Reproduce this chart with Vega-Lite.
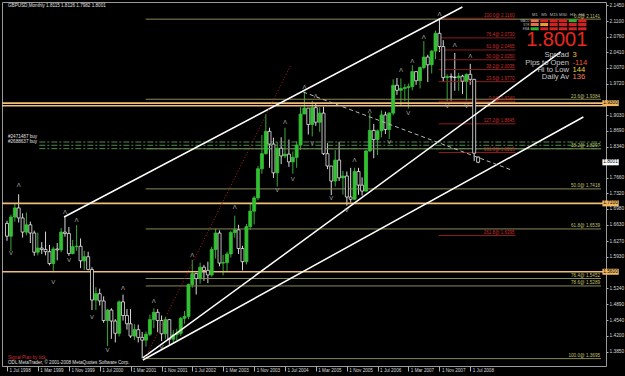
{
  "$schema": "https://vega.github.io/schema/vega-lite/v6.json",
  "width": 604,
  "height": 364,
  "autosize": "none",
  "padding": {"left": 2, "top": 2, "right": 19, "bottom": 10},
  "background": "#000000",
  "config": {
    "view": {"stroke": "#9a9a9a", "strokeWidth": 1},
    "font": "Liberation Sans",
    "axis": {"labelFont": "Liberation Sans", "labelOverlap": false, "labelSeparation": 0, "labelBound": false}
  },
  "resolve": {"scale": {"color": "independent"}},
  "datasets": {
    "candles": [
      {"d":"1998-07-01","o":1.6660,"h":1.6720,"l":1.6280,"c":1.6380},
      {"d":"1998-08-01","o":1.6380,"h":1.6850,"l":1.6050,"c":1.6800},
      {"d":"1998-09-01","o":1.6800,"h":1.7100,"l":1.6700,"c":1.7000},
      {"d":"1998-10-01","o":1.7000,"h":1.7300,"l":1.6680,"c":1.6780},
      {"d":"1998-11-01","o":1.6780,"h":1.6880,"l":1.6350,"c":1.6470},
      {"d":"1998-12-01","o":1.6470,"h":1.6900,"l":1.6400,"c":1.6630},
      {"d":"1999-01-01","o":1.6630,"h":1.6700,"l":1.6230,"c":1.6450},
      {"d":"1999-02-01","o":1.6450,"h":1.6500,"l":1.5950,"c":1.6030},
      {"d":"1999-03-01","o":1.6030,"h":1.6460,"l":1.5960,"c":1.6120},
      {"d":"1999-04-01","o":1.6120,"h":1.6250,"l":1.5990,"c":1.6090},
      {"d":"1999-05-01","o":1.6090,"h":1.6480,"l":1.5960,"c":1.6040},
      {"d":"1999-06-01","o":1.6040,"h":1.6190,"l":1.5740,"c":1.5780},
      {"d":"1999-07-01","o":1.5780,"h":1.6150,"l":1.5590,"c":1.6100},
      {"d":"1999-08-01","o":1.6100,"h":1.6230,"l":1.5850,"c":1.6080},
      {"d":"1999-09-01","o":1.6080,"h":1.6560,"l":1.6030,"c":1.6470},
      {"d":"1999-10-01","o":1.6470,"h":1.6800,"l":1.6370,"c":1.6440},
      {"d":"1999-11-01","o":1.6440,"h":1.6580,"l":1.5950,"c":1.6000},
      {"d":"1999-12-01","o":1.6000,"h":1.6300,"l":1.5980,"c":1.6150},
      {"d":"2000-01-01","o":1.6150,"h":1.6620,"l":1.6060,"c":1.6160},
      {"d":"2000-02-01","o":1.6160,"h":1.6330,"l":1.5680,"c":1.5840},
      {"d":"2000-03-01","o":1.5840,"h":1.6060,"l":1.5640,"c":1.5930},
      {"d":"2000-04-01","o":1.5930,"h":1.6040,"l":1.5630,"c":1.5650},
      {"d":"2000-05-01","o":1.5650,"h":1.5700,"l":1.4760,"c":1.4980},
      {"d":"2000-06-01","o":1.4980,"h":1.5260,"l":1.4760,"c":1.5120},
      {"d":"2000-07-01","o":1.5120,"h":1.5230,"l":1.4860,"c":1.4960},
      {"d":"2000-08-01","o":1.4960,"h":1.5060,"l":1.4480,"c":1.4530},
      {"d":"2000-09-01","o":1.4530,"h":1.4780,"l":1.3970,"c":1.4760},
      {"d":"2000-10-01","o":1.4760,"h":1.4800,"l":1.4130,"c":1.4520},
      {"d":"2000-11-01","o":1.4520,"h":1.4560,"l":1.4050,"c":1.4250},
      {"d":"2000-12-01","o":1.4250,"h":1.4970,"l":1.4180,"c":1.4940},
      {"d":"2001-01-01","o":1.4940,"h":1.5100,"l":1.4530,"c":1.4640},
      {"d":"2001-02-01","o":1.4640,"h":1.4780,"l":1.4330,"c":1.4460},
      {"d":"2001-03-01","o":1.4460,"h":1.4780,"l":1.4150,"c":1.4190},
      {"d":"2001-04-01","o":1.4190,"h":1.4450,"l":1.4100,"c":1.4330},
      {"d":"2001-05-01","o":1.4330,"h":1.4440,"l":1.4050,"c":1.4160},
      {"d":"2001-06-01","o":1.4160,"h":1.4280,"l":1.3700,"c":1.4100},
      {"d":"2001-07-01","o":1.4100,"h":1.4290,"l":1.3960,"c":1.4230},
      {"d":"2001-08-01","o":1.4230,"h":1.4660,"l":1.4190,"c":1.4550},
      {"d":"2001-09-01","o":1.4550,"h":1.4800,"l":1.4360,"c":1.4710},
      {"d":"2001-10-01","o":1.4710,"h":1.4780,"l":1.4280,"c":1.4530},
      {"d":"2001-11-01","o":1.4530,"h":1.4640,"l":1.4080,"c":1.4240},
      {"d":"2001-12-01","o":1.4240,"h":1.4610,"l":1.4130,"c":1.4550},
      {"d":"2002-01-01","o":1.4550,"h":1.4560,"l":1.4000,"c":1.4120},
      {"d":"2002-02-01","o":1.4120,"h":1.4320,"l":1.4050,"c":1.4220},
      {"d":"2002-03-01","o":1.4220,"h":1.4350,"l":1.4090,"c":1.4250},
      {"d":"2002-04-01","o":1.4250,"h":1.4610,"l":1.4190,"c":1.4580},
      {"d":"2002-05-01","o":1.4580,"h":1.4740,"l":1.4460,"c":1.4620},
      {"d":"2002-06-01","o":1.4620,"h":1.5340,"l":1.4560,"c":1.5320},
      {"d":"2002-07-01","o":1.5320,"h":1.5860,"l":1.5250,"c":1.5560},
      {"d":"2002-08-01","o":1.5560,"h":1.5570,"l":1.5100,"c":1.5450},
      {"d":"2002-09-01","o":1.5450,"h":1.5800,"l":1.5340,"c":1.5700},
      {"d":"2002-10-01","o":1.5700,"h":1.5750,"l":1.5400,"c":1.5630},
      {"d":"2002-11-01","o":1.5630,"h":1.5820,"l":1.5350,"c":1.5530},
      {"d":"2002-12-01","o":1.5530,"h":1.6150,"l":1.5490,"c":1.6090},
      {"d":"2003-01-01","o":1.6090,"h":1.6540,"l":1.5890,"c":1.6450},
      {"d":"2003-02-01","o":1.6450,"h":1.6510,"l":1.5720,"c":1.5790},
      {"d":"2003-03-01","o":1.5790,"h":1.5970,"l":1.5520,"c":1.5800},
      {"d":"2003-04-01","o":1.5800,"h":1.6040,"l":1.5600,"c":1.5990},
      {"d":"2003-05-01","o":1.5990,"h":1.6500,"l":1.5910,"c":1.6460},
      {"d":"2003-06-01","o":1.6460,"h":1.6830,"l":1.6350,"c":1.6520},
      {"d":"2003-07-01","o":1.6520,"h":1.6630,"l":1.5990,"c":1.6110},
      {"d":"2003-08-01","o":1.6110,"h":1.6170,"l":1.5630,"c":1.5820},
      {"d":"2003-09-01","o":1.5820,"h":1.6650,"l":1.5760,"c":1.6590},
      {"d":"2003-10-01","o":1.6590,"h":1.7090,"l":1.6520,"c":1.6930},
      {"d":"2003-11-01","o":1.6930,"h":1.7260,"l":1.6640,"c":1.7220},
      {"d":"2003-12-01","o":1.7220,"h":1.7920,"l":1.7170,"c":1.7860},
      {"d":"2004-01-01","o":1.7860,"h":1.8600,"l":1.7750,"c":1.8190},
      {"d":"2004-02-01","o":1.8190,"h":1.9050,"l":1.8170,"c":1.8680},
      {"d":"2004-03-01","o":1.8680,"h":1.8760,"l":1.7880,"c":1.8400},
      {"d":"2004-04-01","o":1.8400,"h":1.8540,"l":1.7660,"c":1.7770},
      {"d":"2004-05-01","o":1.7770,"h":1.8450,"l":1.7470,"c":1.8310},
      {"d":"2004-06-01","o":1.8310,"h":1.8550,"l":1.7960,"c":1.8140},
      {"d":"2004-07-01","o":1.8140,"h":1.8760,"l":1.8090,"c":1.8180},
      {"d":"2004-08-01","o":1.8180,"h":1.8500,"l":1.7900,"c":1.8010},
      {"d":"2004-09-01","o":1.8010,"h":1.8240,"l":1.7750,"c":1.8110},
      {"d":"2004-10-01","o":1.8110,"h":1.8460,"l":1.7880,"c":1.8380},
      {"d":"2004-11-01","o":1.8380,"h":1.9210,"l":1.8270,"c":1.9060},
      {"d":"2004-12-01","o":1.9060,"h":1.9550,"l":1.9060,"c":1.9190},
      {"d":"2005-01-01","o":1.9190,"h":1.9190,"l":1.8610,"c":1.8830},
      {"d":"2005-02-01","o":1.8830,"h":1.9350,"l":1.8570,"c":1.9200},
      {"d":"2005-03-01","o":1.9200,"h":1.9300,"l":1.8800,"c":1.8880},
      {"d":"2005-04-01","o":1.8880,"h":1.9210,"l":1.8670,"c":1.9080},
      {"d":"2005-05-01","o":1.9080,"h":1.9220,"l":1.8160,"c":1.8190},
      {"d":"2005-06-01","o":1.8190,"h":1.8420,"l":1.7850,"c":1.7920},
      {"d":"2005-07-01","o":1.7920,"h":1.7920,"l":1.7280,"c":1.7590},
      {"d":"2005-08-01","o":1.7590,"h":1.8270,"l":1.7470,"c":1.8050},
      {"d":"2005-09-01","o":1.8050,"h":1.8450,"l":1.7590,"c":1.7660},
      {"d":"2005-10-01","o":1.7660,"h":1.7810,"l":1.7290,"c":1.7700},
      {"d":"2005-11-01","o":1.7700,"h":1.7800,"l":1.7050,"c":1.7240},
      {"d":"2005-12-01","o":1.7240,"h":1.7880,"l":1.7120,"c":1.7190},
      {"d":"2006-01-01","o":1.7190,"h":1.7880,"l":1.7180,"c":1.7800},
      {"d":"2006-02-01","o":1.7800,"h":1.7880,"l":1.7290,"c":1.7500},
      {"d":"2006-03-01","o":1.7500,"h":1.7670,"l":1.7270,"c":1.7370},
      {"d":"2006-04-01","o":1.7370,"h":1.8270,"l":1.7360,"c":1.8250},
      {"d":"2006-05-01","o":1.8250,"h":1.9080,"l":1.8230,"c":1.8700},
      {"d":"2006-06-01","o":1.8700,"h":1.8840,"l":1.8090,"c":1.8500},
      {"d":"2006-07-01","o":1.8500,"h":1.8720,"l":1.8160,"c":1.8690},
      {"d":"2006-08-01","o":1.8690,"h":1.9140,"l":1.8550,"c":1.9040},
      {"d":"2006-09-01","o":1.9040,"h":1.9110,"l":1.8620,"c":1.8720},
      {"d":"2006-10-01","o":1.8720,"h":1.9100,"l":1.8510,"c":1.9080},
      {"d":"2006-11-01","o":1.9080,"h":1.9820,"l":1.9030,"c":1.9690},
      {"d":"2006-12-01","o":1.9690,"h":1.9850,"l":1.9480,"c":1.9580},
      {"d":"2007-01-01","o":1.9580,"h":1.9840,"l":1.9260,"c":1.9620},
      {"d":"2007-02-01","o":1.9620,"h":1.9720,"l":1.9340,"c":1.9640},
      {"d":"2007-03-01","o":1.9640,"h":1.9730,"l":1.9180,"c":1.9660},
      {"d":"2007-04-01","o":1.9660,"h":2.0130,"l":1.9580,"c":1.9990},
      {"d":"2007-05-01","o":1.9990,"h":2.0000,"l":1.9700,"c":1.9790},
      {"d":"2007-06-01","o":1.9790,"h":2.0100,"l":1.9620,"c":2.0080},
      {"d":"2007-07-01","o":2.0080,"h":2.0660,"l":2.0040,"c":2.0310},
      {"d":"2007-08-01","o":2.0310,"h":2.0360,"l":1.9760,"c":2.0140},
      {"d":"2007-09-01","o":2.0140,"h":2.0460,"l":1.9950,"c":2.0440},
      {"d":"2007-10-01","o":2.0440,"h":2.0890,"l":2.0260,"c":2.0830},
      {"d":"2007-11-01","o":2.0830,"h":2.1160,"l":2.0420,"c":2.0540},
      {"d":"2007-12-01","o":2.0540,"h":2.0680,"l":1.9770,"c":1.9860},
      {"d":"2008-01-01","o":1.9860,"h":1.9930,"l":1.9340,"c":1.9880},
      {"d":"2008-02-01","o":1.9880,"h":1.9950,"l":1.9350,"c":1.9870},
      {"d":"2008-03-01","o":1.9870,"h":2.0400,"l":1.9570,"c":1.9860},
      {"d":"2008-04-01","o":1.9860,"h":1.9960,"l":1.9570,"c":1.9890},
      {"d":"2008-05-01","o":1.9890,"h":1.9920,"l":1.9500,"c":1.9780},
      {"d":"2008-06-01","o":1.9780,"h":1.9950,"l":1.9360,"c":1.9930},
      {"d":"2008-07-01","o":1.9930,"h":2.0160,"l":1.9700,"c":1.9820},
      {"d":"2008-08-01","o":1.9820,"h":1.9830,"l":1.8030,"c":1.8200},
      {"d":"2008-09-01","o":1.8115,"h":1.8126,"l":1.7982,"c":1.8001}
    ],
    "hlines": [
      {"set":"fib","d":"2001-06-29","d2":"2011-04-28","p":2.1141,"label":"0.0@ 2.1141"},
      {"set":"fib","d":"2001-06-29","d2":"2011-04-28","p":1.9384,"label":"23.6@ 1.9384"},
      {"set":"fib","d":"2001-06-29","d2":"2011-04-28","p":1.8297,"label":"38.2@ 1.8297"},
      {"set":"fib","d":"2001-06-29","d2":"2011-04-28","p":1.7418,"label":"50.0@ 1.7418"},
      {"set":"fib","d":"2001-06-29","d2":"2011-04-28","p":1.6539,"label":"61.8@ 1.6539"},
      {"set":"fib","d":"2001-06-29","d2":"2011-04-28","p":1.5452,"label":"76.4@ 1.5452"},
      {"set":"fib","d":"2001-06-29","d2":"2011-04-28","p":1.5289,"label":"78.6@ 1.5289"},
      {"set":"fib","d":"2001-06-29","d2":"2011-04-28","p":1.3695,"label":"100.0@ 1.3695"},
      {"set":"redfib","d":"2007-10-26","d2":"2009-06-23","p":2.1160,"label":"100.0@ 2.1160"},
      {"set":"redfib","d":"2007-10-26","d2":"2009-06-23","p":2.0730,"label":"76.4@ 2.0730"},
      {"set":"redfib","d":"2007-10-26","d2":"2009-06-23","p":2.0465,"label":"61.8@ 2.0465"},
      {"set":"redfib","d":"2007-10-26","d2":"2009-06-23","p":2.0250,"label":"50.0@ 2.0250"},
      {"set":"redfib","d":"2007-10-26","d2":"2009-06-23","p":2.0035,"label":"38.2@ 2.0035"},
      {"set":"redfib","d":"2007-10-26","d2":"2009-06-23","p":1.9770,"label":"23.6@ 1.9770"},
      {"set":"redfib","d":"2007-10-26","d2":"2009-06-23","p":1.9340,"label":"0.0@ 1.9340"},
      {"set":"redfib","d":"2007-10-26","d2":"2009-06-23","p":1.8845,"label":"127.2@ 1.8845"},
      {"set":"redfib","d":"2007-10-26","d2":"2009-06-23","p":1.8215,"label":"161.8@ 1.8215"},
      {"set":"redfib","d":"2007-10-26","d2":"2009-06-23","p":1.6395,"label":"261.8@ 1.6395"},
      {"set":"order","d":"1999-03-13","d2":"2011-04-28","p":1.8446,"label":""},
      {"set":"order","d":"1999-03-13","d2":"2011-04-28","p":1.8374,"label":""},
      {"set":"order","d":"1999-03-13","d2":"2011-04-28","p":1.8300,"label":""}
    ],
    "levels": [
      {"p":1.9300,"tag":"1.9300"},
      {"p":1.9240,"tag":""},
      {"p":1.7100,"tag":"1.7100"},
      {"p":1.5600,"tag":"1.5600"}
    ],
    "trends": [
      {"set":"channel","d":"1999-09-24","p":1.6801,"d2":"2008-04-30","p2":2.1408},
      {"set":"channel","d":"2001-06-06","p":1.3709,"d2":"2010-06-14","p2":2.0421},
      {"set":"channel","d":"2001-06-06","p":1.3665,"d2":"2010-12-10","p2":1.8995},
      {"set":"dashed","d":"2004-11-22","p":1.9543,"d2":"2009-05-22","p2":1.7832},
      {"set":"dotted","d":"2001-06-29","p":1.3731,"d2":"2004-08-12","p2":2.0113}
    ],
    "fractals": [
      {"dir":"up","d":"1998-10-01","p":1.7503},
      {"dir":"up","d":"1999-10-01","p":1.6911},
      {"dir":"up","d":"2000-01-01","p":1.6736},
      {"dir":"up","d":"2001-01-01","p":1.5244},
      {"dir":"up","d":"2001-09-01","p":1.4950},
      {"dir":"up","d":"2002-07-01","p":1.5968},
      {"dir":"up","d":"2003-06-01","p":1.7021},
      {"dir":"up","d":"2004-07-01","p":1.8892},
      {"dir":"up","d":"2004-12-01","p":1.9653},
      {"dir":"up","d":"2005-03-01","p":1.9455},
      {"dir":"up","d":"2006-01-01","p":1.8052},
      {"dir":"up","d":"2006-05-01","p":1.9126},
      {"dir":"up","d":"2007-01-01","p":2.0026},
      {"dir":"up","d":"2007-04-01","p":2.0223},
      {"dir":"up","d":"2007-07-01","p":2.0750},
      {"dir":"up","d":"2007-11-01","p":2.1254},
      {"dir":"up","d":"2008-03-01","p":2.0574},
      {"dir":"up","d":"2008-07-01","p":2.0333},
      {"dir":"down","d":"1998-08-01","p":1.6012},
      {"dir":"down","d":"1999-07-01","p":1.5376},
      {"dir":"down","d":"1999-11-01","p":1.5859},
      {"dir":"down","d":"2000-05-01","p":1.4614},
      {"dir":"down","d":"2000-09-01","p":1.3887},
      {"dir":"down","d":"2001-11-01","p":1.3956},
      {"dir":"down","d":"2004-05-01","p":1.7394},
      {"dir":"down","d":"2004-09-01","p":1.7628},
      {"dir":"down","d":"2005-02-01","p":1.8431},
      {"dir":"down","d":"2005-07-01","p":1.7211},
      {"dir":"down","d":"2005-11-01","p":1.6960},
      {"dir":"down","d":"2006-10-01","p":1.8453},
      {"dir":"down","d":"2007-03-01","p":1.9089},
      {"dir":"down","d":"2008-01-01","p":1.9236},
      {"dir":"down","d":"2008-06-01","p":1.9236}
    ],
    "panel": [
      {"tf":"M1","ind":"MACD","state":"weak","d":"2009-10-20","d2":"2009-12-23","p":2.1074,"p2":2.1138},
      {"tf":"M5","ind":"MACD","state":"sell","d":"2010-01-04","d2":"2010-03-07","p":2.1074,"p2":2.1138},
      {"tf":"M15","ind":"MACD","state":"sell","d":"2010-03-18","d2":"2010-05-22","p":2.1074,"p2":2.1138},
      {"tf":"M30","ind":"MACD","state":"sell","d":"2010-06-01","d2":"2010-08-05","p":2.1074,"p2":2.1138},
      {"tf":"H1","ind":"MACD","state":"buy","d":"2010-08-16","d2":"2010-10-19","p":2.1074,"p2":2.1138},
      {"tf":"H4","ind":"MACD","state":"sell","d":"2010-10-30","d2":"2011-01-03","p":2.1074,"p2":2.1138},
      {"tf":"M1","ind":"STR","state":"weak","d":"2009-10-20","d2":"2009-12-23","p":2.0991,"p2":2.1057},
      {"tf":"M5","ind":"STR","state":"flat","d":"2010-01-04","d2":"2010-03-07","p":2.0991,"p2":2.1057},
      {"tf":"M15","ind":"STR","state":"sell","d":"2010-03-18","d2":"2010-05-22","p":2.0991,"p2":2.1057},
      {"tf":"M30","ind":"STR","state":"sell","d":"2010-06-01","d2":"2010-08-05","p":2.0991,"p2":2.1057},
      {"tf":"H1","ind":"STR","state":"sell","d":"2010-08-16","d2":"2010-10-19","p":2.0991,"p2":2.1057},
      {"tf":"H4","ind":"STR","state":"sell","d":"2010-10-30","d2":"2011-01-03","p":2.0991,"p2":2.1057},
      {"tf":"M1","ind":"EMA","state":"buy","d":"2009-10-20","d2":"2009-12-23","p":2.0896,"p2":2.0962},
      {"tf":"M5","ind":"EMA","state":"sell","d":"2010-01-04","d2":"2010-03-07","p":2.0896,"p2":2.0962},
      {"tf":"M15","ind":"EMA","state":"sell","d":"2010-03-18","d2":"2010-05-22","p":2.0896,"p2":2.0962},
      {"tf":"M30","ind":"EMA","state":"sell","d":"2010-06-01","d2":"2010-08-05","p":2.0896,"p2":2.0962},
      {"tf":"H1","ind":"EMA","state":"sell","d":"2010-08-16","d2":"2010-10-19","p":2.0896,"p2":2.0962},
      {"tf":"H4","ind":"EMA","state":"sell","d":"2010-10-30","d2":"2011-01-03","p":2.0896,"p2":2.0962}
    ],
    "tfs": [
      {"tf":"M1","d":"2009-11-22","p":2.1221},
      {"tf":"M5","d":"2010-02-04","p":2.1221},
      {"tf":"M15","d":"2010-04-21","p":2.1221},
      {"tf":"M30","d":"2010-07-03","p":2.1221},
      {"tf":"H1","d":"2010-09-16","p":2.1221},
      {"tf":"H4","d":"2010-11-29","p":2.1221}
    ],
    "inds": [
      {"ind":"MACD","d":"2009-10-10","p":2.1108},
      {"ind":"STR","d":"2009-10-10","p":2.1024},
      {"ind":"EMA","d":"2009-10-10","p":2.0927}
    ],
    "info": [
      {"item":"Spread","value":"3","d":"2010-08-19","d2":"2010-09-16","p":2.0355},
      {"item":"Pips to Open","value":"-114","d":"2010-08-19","d2":"2010-09-16","p":2.0186},
      {"item":"Hi to Low","value":"144","d":"2010-08-19","d2":"2010-09-16","p":2.0026},
      {"item":"Daily Av","value":"136","d":"2010-08-19","d2":"2010-09-16","p":1.9866}
    ],
    "price": [{"text":"1.8001","d":"2010-05-14","p":2.0684}],
    "notes": [
      {"kind":"info","text":"GBPUSD,Monthly  1.8115 1.8126 1.7982 1.8001","d":"1998-07-09","p":2.1440},
      {"kind":"info","text":"#2471487 buy","d":"1998-07-09","p":1.8549},
      {"kind":"info","text":"#2688637 buy","d":"1998-07-09","p":1.8440},
      {"kind":"info","text":"ODL MetaTrader, © 2001-2008 MetaQuotes Software Corp.","d":"1998-07-09","p":1.3592},
      {"kind":"alert","text":"Signal Plan by tick","d":"1998-07-09","p":1.3698}
    ],
    "boxes": [
      {"kind":"bid","text":"1.8001","d":"2011-05-09","d2":"2011-09-15","dm":"2011-07-12","p":1.7935,"p2":1.8067,"pm":1.8001},
      {"kind":"level","text":"1.9300","d":"2011-05-09","d2":"2011-09-15","dm":"2011-07-12","p":1.9234,"p2":1.9366,"pm":1.9300},
      {"kind":"level","text":"1.7100","d":"2011-05-09","d2":"2011-09-15","dm":"2011-07-12","p":1.7034,"p2":1.7166,"pm":1.7100},
      {"kind":"level","text":"1.5600","d":"2011-05-09","d2":"2011-09-15","dm":"2011-07-12","p":1.5534,"p2":1.5666,"pm":1.5600}
    ]
  },
  "layer": [
    {
      "data": {"name": "candles"},
      "mark": {"type": "rule", "strokeWidth": 1, "clip": true},
      "encoding": {
        "x": {
          "field": "d", "type": "temporal", "title": null,
          "scale": {"type": "utc", "nice": false, "domain": [{"year": 1998, "month": 7, "date": 1, "utc": true}, {"year": 2011, "month": 4, "date": 28, "utc": true}]},
          "axis": {
            "orient": "bottom", "title": null, "grid": false, "domain": false, "zindex": 2, "tickCount": 40,
            "values": [
              {"year": 1998, "month": 7, "date": 1, "utc": true},
              {"year": 1999, "month": 3, "date": 1, "utc": true},
              {"year": 1999, "month": 11, "date": 1, "utc": true},
              {"year": 2000, "month": 7, "date": 1, "utc": true},
              {"year": 2001, "month": 3, "date": 1, "utc": true},
              {"year": 2001, "month": 11, "date": 1, "utc": true},
              {"year": 2002, "month": 7, "date": 1, "utc": true},
              {"year": 2003, "month": 3, "date": 1, "utc": true},
              {"year": 2003, "month": 11, "date": 1, "utc": true},
              {"year": 2004, "month": 7, "date": 1, "utc": true},
              {"year": 2005, "month": 3, "date": 1, "utc": true},
              {"year": 2005, "month": 11, "date": 1, "utc": true},
              {"year": 2006, "month": 7, "date": 1, "utc": true},
              {"year": 2007, "month": 3, "date": 1, "utc": true},
              {"year": 2007, "month": 11, "date": 1, "utc": true},
              {"year": 2008, "month": 7, "date": 1, "utc": true}
            ],
            "labelExpr": "utcFormat(datum.value, '%-d %b %Y')",
            "labelAlign": "left", "labelBaseline": "top", "labelOffset": 2, "labelPadding": -4,
            "labelFlush": false, "labelOverlap": false,
            "labelFontSize": 4.6, "labelColor": "#d8d8d8",
            "tickSize": 5, "tickColor": "#b0b0b0", "tickWidth": 1
          }
        },
        "y": {
          "field": "l", "type": "quantitative", "title": null,
          "scale": {"domain": [1.3533, 2.1517], "zero": false, "nice": false},
          "axis": {
            "orient": "right", "title": null, "grid": false, "domain": false, "zindex": 2, "tickCount": 60,
            "values": [2.1450, 2.1100, 2.0760, 2.0410, 2.0070, 1.9720, 1.9030, 1.8690, 1.8340, 1.7660, 1.7320, 1.6980, 1.6630, 1.6270, 1.5930, 1.5240, 1.4890, 1.4540, 1.4200, 1.3850],
            "format": ".4f", "labelFontSize": 4.8, "labelColor": "#d8d8d8", "labelBaseline": "middle",
            "labelOverlap": false, "labelFlush": false, "labelSeparation": 0,
            "tickSize": 2, "tickColor": "#b0b0b0", "labelPadding": 1
          }
        },
        "y2": {"field": "h"},
        "color": {"condition": {"test": "datum.c > datum.o", "value": "#3aa83a"}, "value": "#d8d8d8"}
      }
    },
    {
      "data": {"name": "levels"},
      "mark": {"type": "rule", "color": "#f0be78", "strokeWidth": 1.6},
      "encoding": {
        "y": {"field": "p", "type": "quantitative", "title": null}
      }
    },
    {
      "data": {"name": "hlines"},
      "transform": [{"filter": "datum.set === 'fib'"}],
      "mark": {"type": "rule", "color": "#8a8a58", "strokeWidth": 1, "clip": true},
      "encoding": {
        "x": {"field": "d", "type": "temporal", "title": null},
        "x2": {"field": "d2"},
        "y": {"field": "p", "type": "quantitative", "title": null}
      }
    },
    {
      "data": {"name": "hlines"},
      "transform": [{"filter": "datum.set === 'order'"}],
      "mark": {"type": "rule", "color": "#4e8c4e", "strokeWidth": 1, "strokeDash": [6, 2, 2, 2], "clip": true},
      "encoding": {
        "x": {"field": "d", "type": "temporal", "title": null},
        "x2": {"field": "d2"},
        "y": {"field": "p", "type": "quantitative", "title": null}
      }
    },
    {
      "data": {"name": "hlines"},
      "transform": [{"filter": "datum.set === 'redfib'"}],
      "mark": {"type": "rule", "color": "#8c1c1c", "strokeWidth": 1},
      "encoding": {
        "x": {"field": "d", "type": "temporal", "title": null},
        "x2": {"field": "d2"},
        "y": {"field": "p", "type": "quantitative", "title": null}
      }
    },
    {
      "data": {"name": "candles"},
      "mark": {"type": "bar", "width": 3, "strokeWidth": 0.8, "clip": true},
      "encoding": {
        "x": {"field": "d", "type": "temporal", "title": null},
        "y": {"field": "o", "type": "quantitative", "title": null},
        "y2": {"field": "c"},
        "fill": {"condition": {"test": "datum.c > datum.o", "value": "#33c033"}, "value": "#000000"},
        "stroke": {"condition": {"test": "datum.c > datum.o", "value": "#33c033"}, "value": "#e8e8e8"}
      }
    },
    {
      "data": {"name": "trends"},
      "transform": [{"filter": "datum.set === 'channel'"}],
      "mark": {"type": "rule", "color": "#ffffff", "strokeWidth": 1.5, "clip": true},
      "encoding": {
        "x": {"field": "d", "type": "temporal", "title": null},
        "x2": {"field": "d2"},
        "y": {"field": "p", "type": "quantitative", "title": null},
        "y2": {"field": "p2"}
      }
    },
    {
      "data": {"name": "trends"},
      "transform": [{"filter": "datum.set === 'dashed'"}],
      "mark": {"type": "rule", "color": "#b8b8b8", "strokeWidth": 1, "strokeDash": [4, 3], "clip": true},
      "encoding": {
        "x": {"field": "d", "type": "temporal", "title": null},
        "x2": {"field": "d2"},
        "y": {"field": "p", "type": "quantitative", "title": null},
        "y2": {"field": "p2"}
      }
    },
    {
      "data": {"name": "trends"},
      "transform": [{"filter": "datum.set === 'dotted'"}],
      "mark": {"type": "rule", "color": "#b02222", "strokeWidth": 1, "strokeDash": [1, 2], "clip": true},
      "encoding": {
        "x": {"field": "d", "type": "temporal", "title": null},
        "x2": {"field": "d2"},
        "y": {"field": "p", "type": "quantitative", "title": null},
        "y2": {"field": "p2"}
      }
    },
    {
      "data": {"name": "hlines"},
      "transform": [{"filter": "datum.set === 'fib'"}],
      "mark": {"type": "text", "align": "right", "baseline": "bottom", "dx": -1, "dy": -0.5, "fontSize": 4.6, "color": "#c0c070"},
      "encoding": {
        "x": {"field": "d2", "type": "temporal", "title": null},
        "y": {"field": "p", "type": "quantitative", "title": null},
        "text": {"field": "label"}
      }
    },
    {
      "data": {"name": "hlines"},
      "transform": [{"filter": "datum.set === 'redfib'"}],
      "mark": {"type": "text", "align": "right", "baseline": "bottom", "dx": -1, "dy": -0.5, "fontSize": 4.5, "color": "#c8302c"},
      "encoding": {
        "x": {"field": "d2", "type": "temporal", "title": null},
        "y": {"field": "p", "type": "quantitative", "title": null},
        "text": {"field": "label"}
      }
    },
    {
      "data": {"name": "fractals"},
      "transform": [{"filter": "datum.dir === 'up'"}],
      "mark": {"type": "text", "text": "Λ", "fontSize": 6, "color": "#a8a8a8", "baseline": "middle", "clip": true},
      "encoding": {
        "x": {"field": "d", "type": "temporal", "title": null},
        "y": {"field": "p", "type": "quantitative", "title": null}
      }
    },
    {
      "data": {"name": "fractals"},
      "transform": [{"filter": "datum.dir === 'down'"}],
      "mark": {"type": "text", "text": "V", "fontSize": 6, "color": "#a8a8a8", "baseline": "middle", "clip": true},
      "encoding": {
        "x": {"field": "d", "type": "temporal", "title": null},
        "y": {"field": "p", "type": "quantitative", "title": null}
      }
    },
    {
      "data": {"name": "panel"},
      "mark": {"type": "rect"},
      "encoding": {
        "x": {"field": "d", "type": "temporal", "title": null},
        "x2": {"field": "d2"},
        "y": {"field": "p", "type": "quantitative", "title": null},
        "y2": {"field": "p2"},
        "color": {"field": "state", "type": "nominal", "legend": null, "scale": {"domain": ["weak", "sell", "buy", "flat"], "range": ["#e07050", "#d42020", "#30b030", "#e8a030"]}}
      }
    },
    {
      "data": {"name": "tfs"},
      "mark": {"type": "text", "fontSize": 4.2, "color": "#b8b8b8", "baseline": "middle"},
      "encoding": {
        "x": {"field": "d", "type": "temporal", "title": null},
        "y": {"field": "p", "type": "quantitative", "title": null},
        "text": {"field": "tf"}
      }
    },
    {
      "data": {"name": "inds"},
      "mark": {"type": "text", "fontSize": 3, "color": "#b8b8b8", "baseline": "middle", "align": "right"},
      "encoding": {
        "x": {"field": "d", "type": "temporal", "title": null},
        "y": {"field": "p", "type": "quantitative", "title": null},
        "text": {"field": "ind"}
      }
    },
    {
      "data": {"name": "price"},
      "mark": {"type": "text", "fontSize": 20, "color": "#e8281c", "baseline": "middle", "align": "center"},
      "encoding": {
        "x": {"field": "d", "type": "temporal", "title": null},
        "y": {"field": "p", "type": "quantitative", "title": null},
        "text": {"field": "text"}
      }
    },
    {
      "data": {"name": "info"},
      "mark": {"type": "text", "fontSize": 7.6, "color": "#c8c8c8", "baseline": "middle", "align": "right"},
      "encoding": {
        "x": {"field": "d", "type": "temporal", "title": null},
        "y": {"field": "p", "type": "quantitative", "title": null},
        "text": {"field": "item"}
      }
    },
    {
      "data": {"name": "info"},
      "mark": {"type": "text", "fontSize": 7.6, "baseline": "middle", "align": "left"},
      "encoding": {
        "x": {"field": "d2", "type": "temporal", "title": null},
        "y": {"field": "p", "type": "quantitative", "title": null},
        "text": {"field": "value"},
        "color": {"field": "item", "type": "nominal", "legend": null, "scale": {"domain": ["Spread", "Pips to Open", "Hi to Low", "Daily Av"], "range": ["#f2c230", "#ee5a28", "#f0d040", "#f0805a"]}}
      }
    },
    {
      "data": {"name": "notes"},
      "mark": {"type": "text", "fontSize": 4.6, "baseline": "middle", "align": "left"},
      "encoding": {
        "x": {"field": "d", "type": "temporal", "title": null},
        "y": {"field": "p", "type": "quantitative", "title": null},
        "text": {"field": "text"},
        "color": {"field": "kind", "type": "nominal", "legend": null, "scale": {"domain": ["info", "alert"], "range": ["#e0e0e0", "#d03030"]}}
      }
    },
    {
      "data": {"name": "boxes"},
      "mark": {"type": "rect", "clip": false},
      "encoding": {
        "x": {"field": "d", "type": "temporal", "title": null},
        "x2": {"field": "d2"},
        "y": {"field": "p", "type": "quantitative", "title": null},
        "y2": {"field": "p2"},
        "color": {"field": "kind", "type": "nominal", "legend": null, "scale": {"domain": ["bid", "level"], "range": ["#ffffff", "#f0b860"]}}
      }
    },
    {
      "data": {"name": "boxes"},
      "mark": {"type": "text", "fontSize": 4.8, "color": "#000000", "baseline": "middle", "align": "center", "clip": false},
      "encoding": {
        "x": {"field": "dm", "type": "temporal", "title": null},
        "y": {"field": "pm", "type": "quantitative", "title": null},
        "text": {"field": "text"}
      }
    }
  ]
}
